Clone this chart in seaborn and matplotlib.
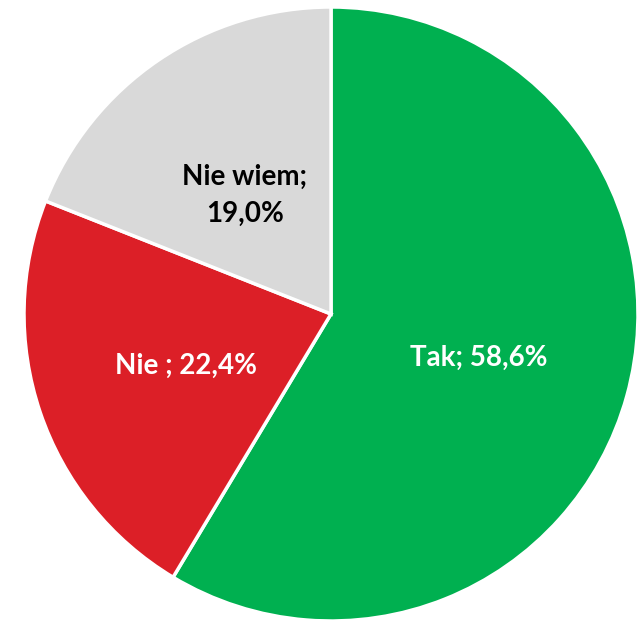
import matplotlib
matplotlib.use("Agg")
import matplotlib.pyplot as plt
import seaborn as sns

# answers and shares (%)
labels = ["Tak; 58,6%", "Nie ; 22,4%", "Nie wiem;\n19,0%"]
values = [58.6, 22.4, 19.0]
colors = ["#00B050", "#DC1F27", "#D9D9D9"]
text_colors = ["white", "white", "black"]

sns.set_theme(style="white")
plt.rcParams['font.family'] = ['Lato', 'DejaVu Sans']

W, H = 637, 621
cx, cy, r = 331, 314, 307

fig = plt.figure(figsize=(W / 100, H / 100), dpi=100)
ax = fig.add_axes([0, 0, 1, 1])

wedges, texts = ax.pie(values, labels=labels, colors=colors, startangle=90,
                       counterclock=False, labeldistance=0.5,
                       wedgeprops=dict(edgecolor="white", linewidth=2.5))

for t, c in zip(texts, text_colors):
    t.set_color(c)
    t.set_fontsize(20)
    t.set_fontweight("bold")
    t.set_ha("center")
    t.set_va("center_baseline")
    t.set_linespacing(1.55)

ax.set_aspect("auto")
ax.set_xlim(-cx / r, (W - cx) / r)
ax.set_ylim(-(H - cy) / r, cy / r)
ax.axis("off")

fig.savefig("out.png", dpi=100)
